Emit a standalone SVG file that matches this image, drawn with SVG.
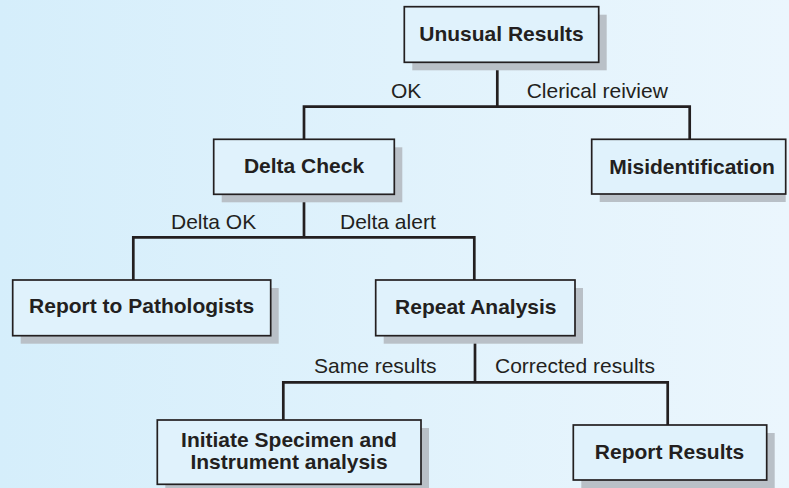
<svg xmlns="http://www.w3.org/2000/svg" width="789" height="488" viewBox="0 0 789 488">
<defs>
<linearGradient id="bg" x1="0" y1="0" x2="1" y2="0">
<stop offset="0" stop-color="#d5eefb"/>
<stop offset="1" stop-color="#ebf6fd"/>
</linearGradient>
<style>
.shadow{fill:#b9c0c7}
.box{fill:#e0f2fc;stroke:#231f20;stroke-width:1.7}
.nt{font-family:"Liberation Sans",Arial,sans-serif;font-size:21px;font-weight:bold;fill:#231f20;text-anchor:middle}
.lb{font-family:"Liberation Sans",Arial,sans-serif;font-size:21px;fill:#231f20}
.conn{fill:none;stroke:#231f20;stroke-width:2.7;stroke-linejoin:miter}
</style>
</defs>
<rect x="0" y="0" width="789" height="488" fill="url(#bg)"/>
<g id="connectors">
<path class="conn" d="M497.3,62.3 V106.7 M304,139.3 V106.7 H689.7 V139.3"/>
<path class="conn" d="M304,194.3 V237.3 M133.3,280 V237.3 H474.3 V280"/>
<path class="conn" d="M475,335.7 V382.3 M283.3,420 V382.3 H667.7 V425"/>
<text class="lb" x="391" y="98.3">OK</text>
<text class="lb" x="526.7" y="98.3">Clerical reiview</text>
<text class="lb" x="171" y="229">Delta OK</text>
<text class="lb" x="340" y="228.5">Delta alert</text>
<text class="lb" x="314" y="372.7">Same results</text>
<text class="lb" x="495" y="372.7">Corrected results</text>
</g>
<g id="n-unusual">
<rect class="shadow" x="412.3" y="14.7" width="194.4" height="55.6"/>
<rect class="box" x="404.3" y="6.7" width="194.4" height="55.6"/>
<text class="nt" x="501.5" y="40.7">Unusual Results</text>
</g>
<g id="n-delta">
<rect class="shadow" x="221.7" y="147.3" width="180.6" height="55"/>
<rect class="box" x="213.7" y="139.3" width="180.6" height="55"/>
<text class="nt" x="304" y="173.3">Delta Check</text>
</g>
<g id="n-misid">
<rect class="shadow" x="599.7" y="147.3" width="186" height="54.7"/>
<rect class="box" x="591.7" y="139.3" width="194" height="54.7"/>
<text class="nt" x="692" y="173.8">Misidentification</text>
</g>
<g id="n-report-path">
<rect class="shadow" x="20.7" y="288" width="258" height="55.7"/>
<rect class="box" x="12.7" y="280" width="258" height="55.7"/>
<text class="nt" x="141.7" y="313.3">Report to Pathologists</text>
</g>
<g id="n-repeat">
<rect class="shadow" x="383.7" y="288" width="199.3" height="55.7"/>
<rect class="box" x="375.7" y="280" width="199.3" height="55.7"/>
<text class="nt" x="475.8" y="314">Repeat Analysis</text>
</g>
<g id="n-initiate">
<rect class="shadow" x="165.3" y="428" width="263.7" height="64.3"/>
<rect class="box" x="157.3" y="420" width="263.7" height="64.3"/>
<text class="nt" x="289" y="446.7">Initiate Specimen and</text>
<text class="nt" x="289" y="469.3">Instrument analysis</text>
</g>
<g id="n-report-results">
<rect class="shadow" x="581.3" y="433" width="193.4" height="55"/>
<rect class="box" x="573.3" y="425" width="193.4" height="55"/>
<text class="nt" x="669.5" y="458.7">Report Results</text>
</g>
</svg>
